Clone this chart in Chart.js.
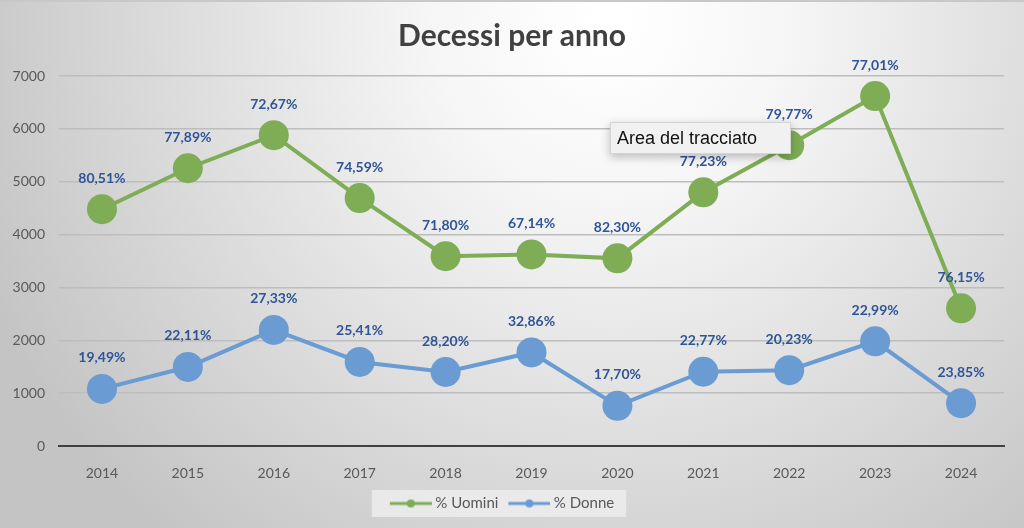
<!DOCTYPE html>
<html>
<head>
<meta charset="utf-8">
<script src="https://cdn.jsdelivr.net/npm/chart.js@4.4.1/dist/chart.umd.min.js"></script>
<style>
  html, body { margin: 0; padding: 0; background: #fff; }
  #wrap { width: 1024px; height: 528px; }
</style>
</head>
<body>
<div id="wrap"><canvas id="myChart" width="1024" height="528"></canvas></div>
<script>
const anni = ["2014","2015","2016","2017","2018","2019","2020","2021","2022","2023","2024"];
const uomini = [4480, 5255, 5880, 4690, 3590, 3625, 3550, 4800, 5690, 6620, 2605];
const donne = [1080, 1495, 2195, 1590, 1400, 1770, 760, 1405, 1435, 1980, 810];
const percUomini = ["80,51%","77,89%","72,67%","74,59%","71,80%","67,14%","82,30%","77,23%","79,77%","77,01%","76,15%"];
const percDonne = ["19,49%","22,11%","27,33%","25,41%","28,20%","32,86%","17,70%","22,77%","20,23%","22,99%","23,85%"];
const titolo = "Decessi per anno";
const suggerimento = "Area del tracciato";

const verde = "#7EAD55";
const blu = "#6A9BD3";

// piccola icona linea+punto per la legenda
function iconaLegenda(colore){
    const c = document.createElement("canvas");
    c.width = 46; c.height = 10;
    const g = c.getContext("2d");
    g.strokeStyle = colore;
    g.lineWidth = 3;
    g.beginPath(); g.moveTo(4,5); g.lineTo(46,5); g.stroke();
    g.fillStyle = colore;
    g.beginPath(); g.arc(25,5,4,0,Math.PI*2); g.fill();
    return c;
}

const sfondo = {
    id: "sfondo",
    beforeDraw(chart){
        const ctx = chart.ctx;
        const w = chart.width, h = chart.height;
        ctx.save();
        const grad = ctx.createRadialGradient(610, 20, 10, 610, 20, 680);
        grad.addColorStop(0, "#ffffff");
        grad.addColorStop(0.25, "#f6f6f6");
        grad.addColorStop(1, "#c4c4c4");
        ctx.fillStyle = grad;
        ctx.fillRect(0, 0, w, h);
        // bordo superiore
        ctx.fillStyle = "#c8c8c8";
        ctx.fillRect(0, 0, w, 2);
        // riquadro legenda
        const hb = chart.legend.legendHitBoxes;
        if (hb && hb.length){
            let minX = Infinity, maxX = -Infinity, minY = Infinity, maxY = -Infinity;
            hb.forEach(b => {
                minX = Math.min(minX, b.left); maxX = Math.max(maxX, b.left + b.width);
                minY = Math.min(minY, b.top); maxY = Math.max(maxY, b.top + b.height);
            });
            ctx.fillStyle = "rgba(240,240,240,0.75)";
            ctx.fillRect(minX - 18, minY - 6, maxX - minX + 30, maxY - minY + 12);
        }
        // titolo
        ctx.fillStyle = "#404040";
        ctx.font = "bold 30px Lato";
        ctx.textAlign = "center";
        ctx.textBaseline = "middle";
        ctx.fillText(titolo, 512, 36);
        ctx.restore();
    }
};

const etichette = {
    id: "etichette",
    afterDatasetsDraw(chart){
        const ctx = chart.ctx;
        ctx.save();
        ctx.font = "bold 14px Lato";
        ctx.fillStyle = "#2F5597";
        ctx.textAlign = "center";
        ctx.textBaseline = "middle";
        const testi = [percUomini, percDonne];
        chart.data.datasets.forEach((ds, i) => {
            chart.getDatasetMeta(i).data.forEach((p, j) => {
                ctx.fillText(testi[i][j], p.x, p.y - 31);
            });
        });
        ctx.restore();
    },
    afterDraw(chart){
        // suggerimento di Excel sull'area del tracciato
        const ctx = chart.ctx;
        ctx.save();
        ctx.shadowColor = "rgba(0,0,0,0.25)";
        ctx.shadowBlur = 10;
        ctx.shadowOffsetY = 3;
        ctx.fillStyle = "#f1f1f1";
        ctx.fillRect(610, 122, 181, 32);
        ctx.shadowColor = "transparent";
        ctx.strokeStyle = "#d4d4d4";
        ctx.lineWidth = 1;
        ctx.strokeRect(610.5, 122.5, 180, 31);
        ctx.fillStyle = "#111";
        ctx.font = "18px 'Liberation Sans'";
        ctx.textAlign = "left";
        ctx.textBaseline = "middle";
        ctx.fillText(suggerimento, 617, 139);
        ctx.restore();
    }
};

const ctx = document.getElementById("myChart").getContext("2d");
const myChart = new Chart(ctx, {
    type: "line",
    data: {
        labels: anni,
        datasets: [{
            label: "% Uomini",
            data: uomini,
            borderColor: verde,
            backgroundColor: verde,
            borderWidth: 4,
            pointRadius: 15,
            pointHoverRadius: 15,
            pointBorderWidth: 0
        },{
            label: "% Donne",
            data: donne,
            borderColor: blu,
            backgroundColor: blu,
            borderWidth: 4,
            pointRadius: 15,
            pointHoverRadius: 15,
            pointBorderWidth: 0
        }]
    },
    options: {
        responsive: false,
        animation: false,
        devicePixelRatio: 1,
        layout: { padding: { top: 76, right: 20, bottom: 7, left: 0 } },
        elements: { point: { pointStyle: "circle" } },
        plugins: {
            title: { display: false },
            tooltip: { enabled: false },
            legend: {
                position: "bottom",
                labels: {
                    color: "#595959",
                    font: { family: "Lato", size: 15 },
                    usePointStyle: true,
                    pointStyleWidth: 38,
                    padding: 10,
                    generateLabels(chart){
                        return chart.data.datasets.map((ds, i) => ({
                            text: ds.label,
                            fillStyle: ds.borderColor,
                            strokeStyle: ds.borderColor,
                            lineWidth: 0,
                            pointStyle: iconaLegenda(ds.borderColor),
                            datasetIndex: i,
                            hidden: false,
                            fontColor: "#595959"
                        }));
                    }
                }
            }
        },
        scales: {
            x: {
                offset: true,
                grid: { display: false },
                border: { color: "#404040", width: 2 },
                ticks: { color: "#595959", font: { family: "Lato", size: 14 }, padding: 11 },
                afterFit(scale){ scale.height = 40; }
            },
            y: {
                min: 0,
                max: 7000,
                ticks: {
                    stepSize: 1000,
                    color: "#595959",
                    font: { family: "Lato", size: 14 },
                    padding: 14,
                    callback: v => String(v)
                },
                grid: {
                    color: c => c.tick && c.tick.value === 0 ? "rgba(0,0,0,0)" : "#bdbdbd",
                    lineWidth: 1.5,
                    drawTicks: false
                },
                border: { display: false },
                afterFit(scale){ scale.width = 59; }
            }
        }
    },
    plugins: [sfondo, etichette]
});
</script>
</body>
</html>
